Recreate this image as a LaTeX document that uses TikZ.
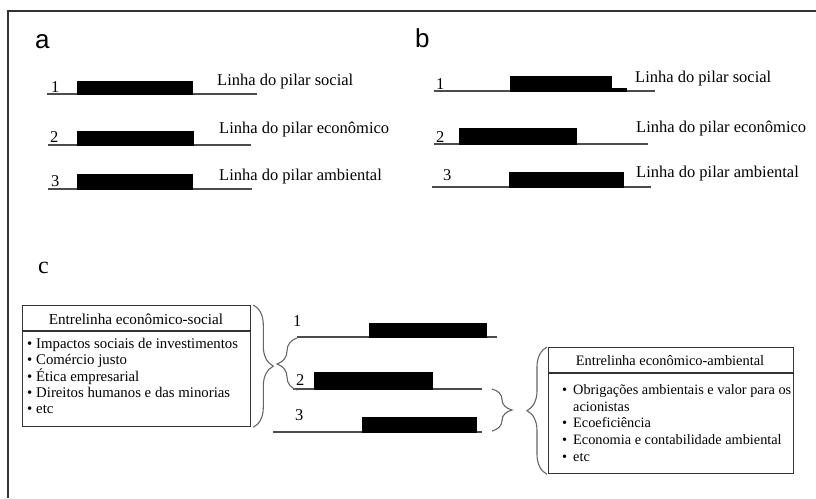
\documentclass[tikz,border=0pt]{standalone}
\usepackage{fontspec}
\setmainfont{Liberation Serif}
\newfontfamily\letrasans{Liberation Sans}
\usetikzlibrary{decorations.pathreplacing}
\begin{document}
\begin{tikzpicture}[x=1pt,y=-1pt,
  linha/.style={draw=black!70,line width=1.1pt},
  barra/.style={fill=black},
  letra/.style={anchor=base west,inner sep=0pt,font=\letrasans\fontsize{26}{28}\selectfont},
  num/.style={anchor=base west,inner sep=0pt,font=\fontsize{16.5}{18}\selectfont},
  rotulo/.style={anchor=base west,inner sep=0pt,font=\fontsize{16.5}{18}\selectfont},
  titulo/.style={anchor=base,inner sep=0pt,font=\fontsize{15.2}{17}\selectfont},
  item/.style={anchor=base west,inner sep=0pt,font=\fontsize{14.8}{16}\selectfont},
  itemb/.style={anchor=base west,inner sep=0pt,font=\fontsize{14.3}{16}\selectfont},
  caixa/.style={draw=black!80,line width=1.3pt,inner sep=0pt},
  chave/.style={draw=black!60,line width=1.1pt,decorate,decoration={brace,amplitude=20pt}}]
\useasboundingbox (0,0) rectangle (816,498);
\draw [line width=1.5pt,black!80] (8,498) -- (8,11) -- (816,11);

\node [letra] (la) at (35,48) {a};
\draw [linha] (47,94) -- (257,94);
\draw [barra] (77,81) rectangle (192,94);
\draw [linha] (48,145) -- (251,145);
\draw [barra] (77,131) rectangle (193,145);
\draw [linha] (48,189) -- (252,189);
\draw [barra] (77,174) rectangle (192,189);
\node [num] (a1) at (51,92) {1};
\node [num] (a2) at (50,142) {2};
\node [num] (a3) at (51,186) {3};
\node [rotulo] (asoc) at (217,85) {Linha do pilar social};
\node [rotulo] (aeco) at (219,133) {Linha do pilar econômico};
\node [rotulo] (aamb) at (219,180) {Linha do pilar ambiental};

\node [letra] (lb) at (415,47) {b};
\draw [linha] (434,91) -- (655,91);
\draw [barra] (510,76) rectangle (611,91);
\draw [barra] (611,88.5) rectangle (626,91.5);
\draw [linha] (434,144) -- (648,144);
\draw [barra] (459,128) rectangle (576,144);
\draw [linha] (432,187) -- (651,187);
\draw [barra] (509,172) rectangle (623,187);
\node [num] (b1) at (436,89) {1};
\node [num] (b2) at (436,142) {2};
\node [num] (b3) at (443,180) {3};
\node [rotulo] (bsoc) at (635,82) {Linha do pilar social};
\node [rotulo] (beco) at (636,132) {Linha do pilar econômico};
\node [rotulo] (bamb) at (636,177) {Linha do pilar ambiental};

\node [anchor=base west,inner sep=0pt,font=\fontsize{24}{26}\selectfont] (lc) at (38,273) {c};
\draw [linha] (297,337) -- (497,337);
\draw [barra] (369,323) rectangle (486,337);
\draw [linha] (293,389) -- (482,389);
\draw [barra] (314,372) rectangle (432,389);
\draw [linha] (273,432) -- (482,432);
\draw [barra] (362,417) rectangle (476,432);
\node [num] (c1) at (293,326) {1};
\node [num] (c2) at (296,385) {2};
\node [num] (c3) at (295,420) {3};

\node [caixa,draw,anchor=north west,minimum width=228pt,minimum height=121pt] (es) at (22,305) {};
\draw [caixa] (22,331) -- (250,331);
\node [titulo] (est) at (136,324) {Entrelinha econômico-social};
\node [item] (es1) at (27,348) {\textbullet};
\node [item] (es1t) at (36,348) {Impactos sociais de investimentos};
\node [item] (es2) at (27,364.5) {\textbullet};
\node [item] (es2t) at (36,364.5) {Comércio justo};
\node [item] (es3) at (27,381) {\textbullet};
\node [item] (es3t) at (36,381) {Ética empresarial};
\node [item] (es4) at (27,397) {\textbullet};
\node [item] (es4t) at (36,397) {Direitos humanos e das minorias};
\node [item] (es5) at (27,413) {\textbullet};
\node [item] (es5t) at (36,413) {etc};

\node [caixa,draw,anchor=north west,minimum width=245pt,minimum height=126pt] (ea) at (548,347) {};
\draw [caixa] (548,373) -- (793,373);
\node [titulo,font=\fontsize{14.4}{16}\selectfont] (eat) at (670,365) {Entrelinha econômico-ambiental};
\node [itemb] (ea1) at (562,394) {\textbullet};
\node [itemb] (ea1t) at (573,394) {Obrigações ambientais e valor para os};
\node [itemb] (ea1u) at (573,411) {acionistas};
\node [itemb] (ea2) at (562,427) {\textbullet};
\node [itemb] (ea2t) at (573,427) {Ecoeficiência};
\node [itemb] (ea3) at (562,444) {\textbullet};
\node [itemb] (ea3t) at (573,444) {Economia e contabilidade ambiental};
\node [itemb] (ea4) at (562,461) {\textbullet};
\node [itemb] (ea4t) at (573,461) {etc};

\draw [chave] ([xshift=2pt]es.north east) -- ([xshift=2pt]es.south east);
\draw [chave] (297,390) -- (297,338);
\draw [chave] (492,389) -- (492,431);
\draw [chave] ([xshift=-1pt]ea.south west) -- ([xshift=-1pt]ea.north west);
\end{tikzpicture}
\end{document}
